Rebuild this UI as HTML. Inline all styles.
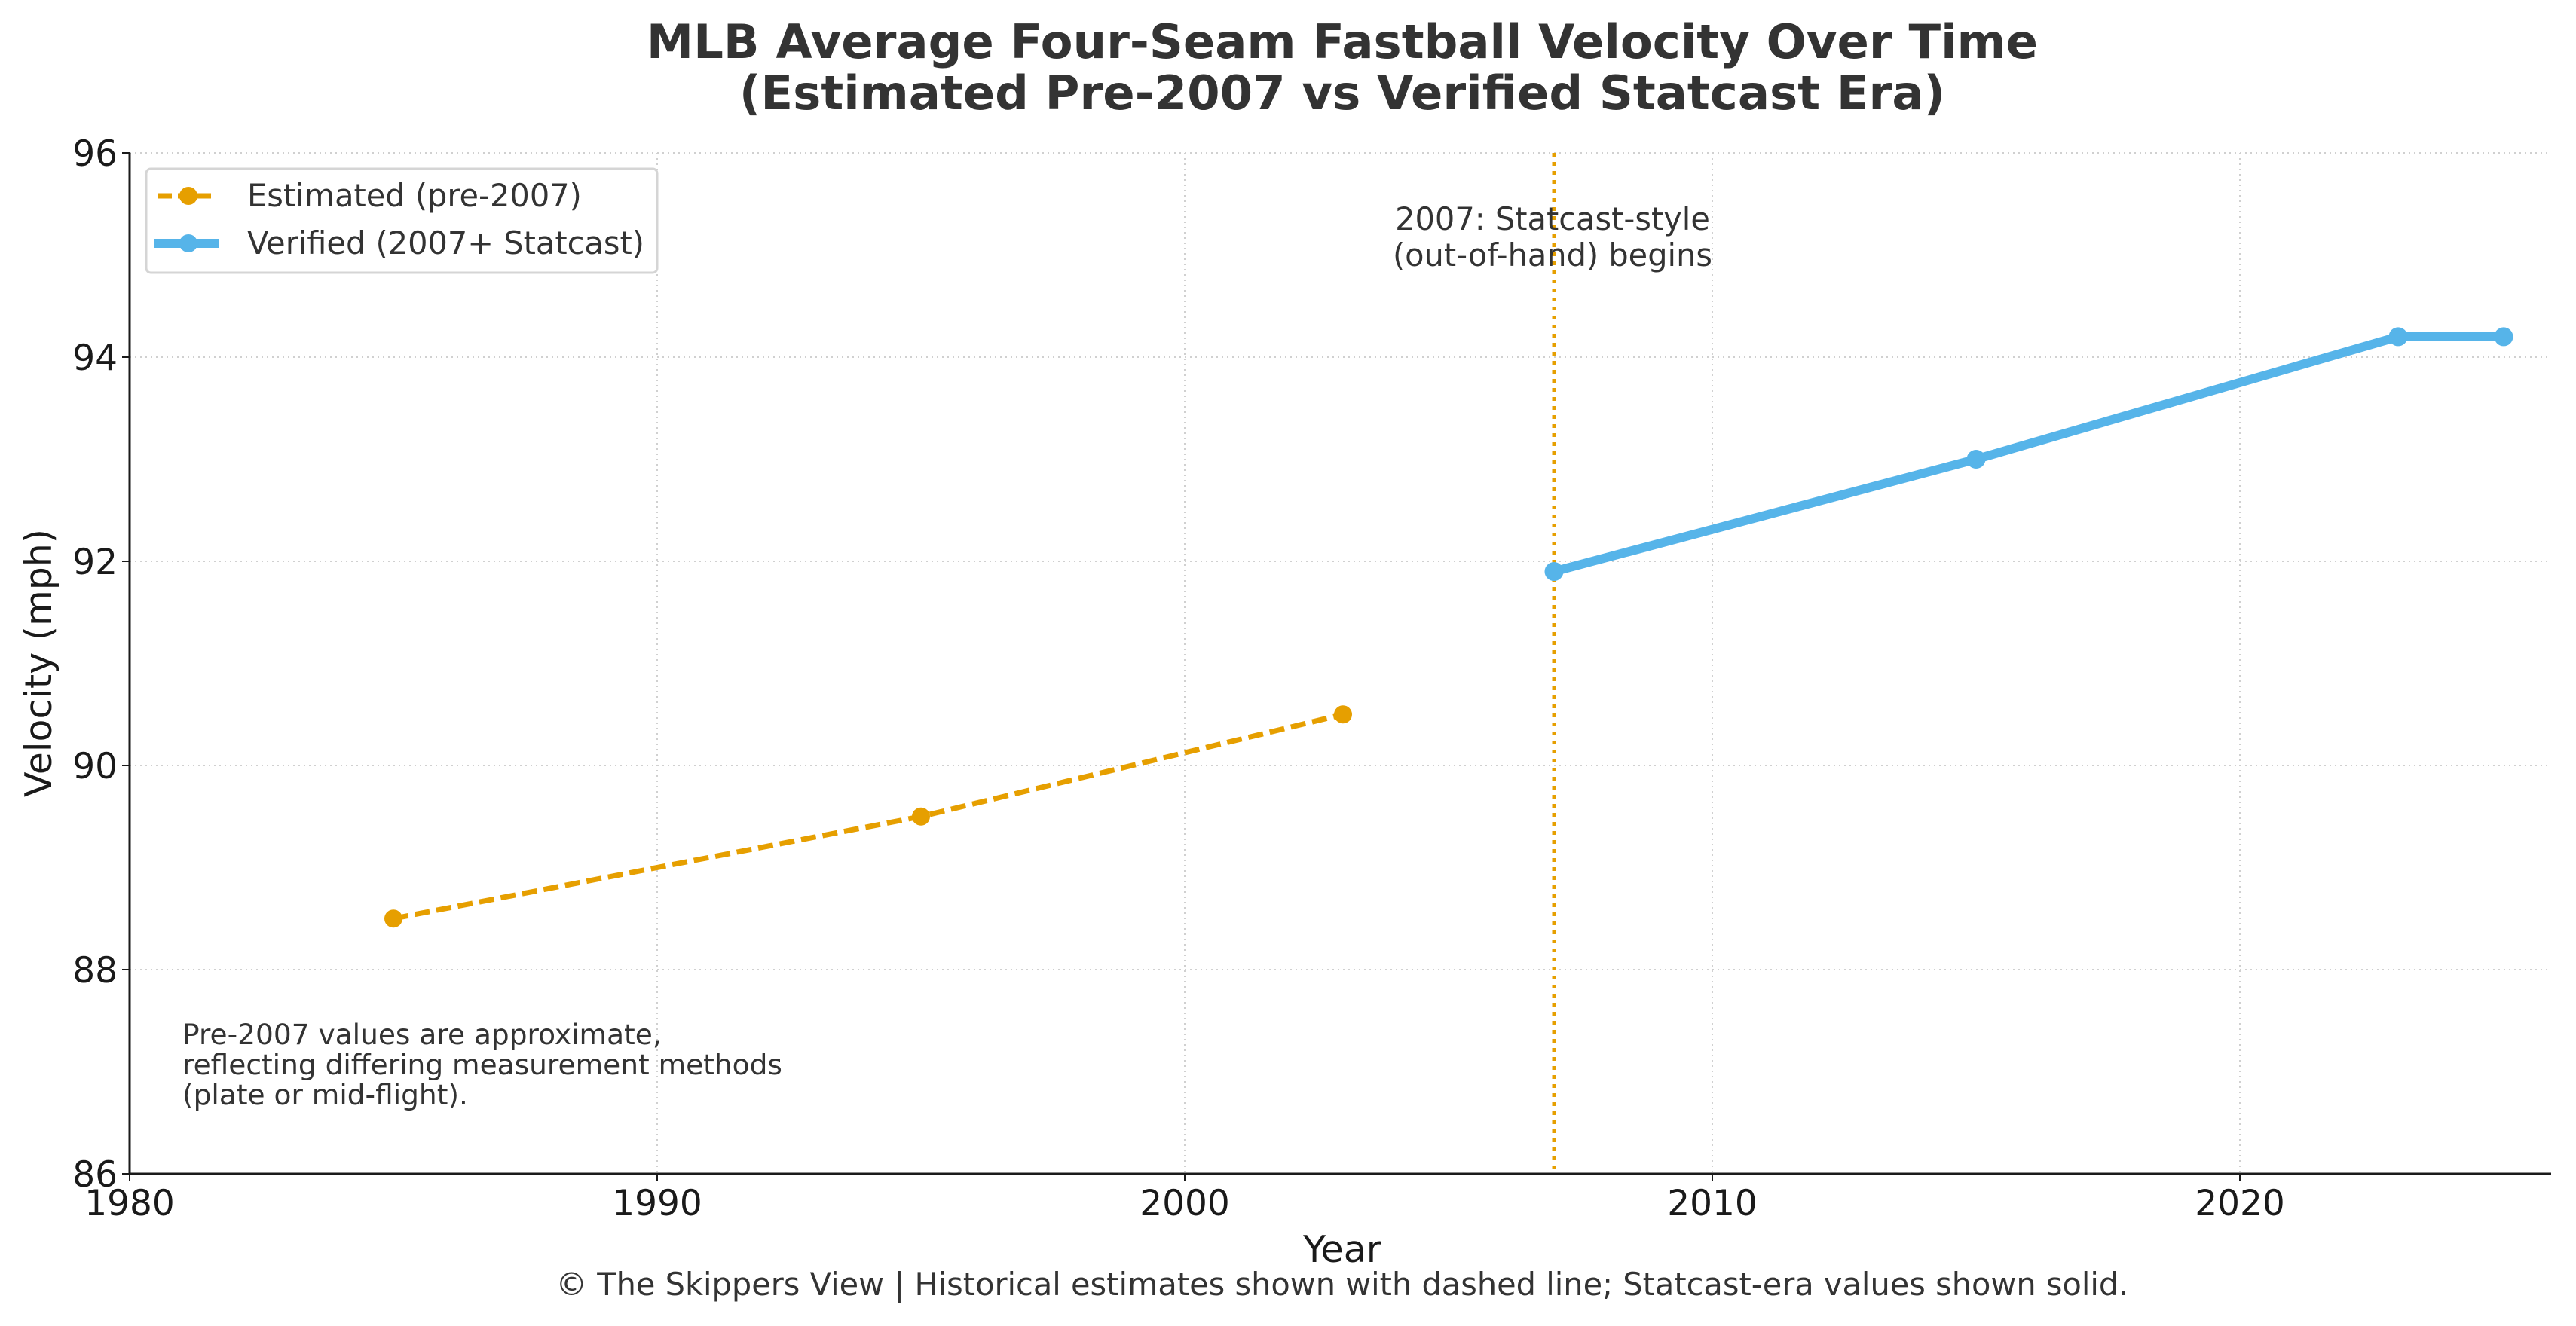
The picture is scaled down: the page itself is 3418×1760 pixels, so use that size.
<!DOCTYPE html>
<html><head><meta charset="utf-8"><style>
html,body{margin:0;padding:0;background:#fff}
svg{display:block;font-family:"DejaVu Sans","Liberation Sans",sans-serif}
</style></head><body>
<svg id="chart" width="3418" height="1760" viewBox="0 0 3418 1760">
<g fill="#333" font-weight="bold" font-size="62.5" text-anchor="middle">
<text x="1781" y="77">MLB Average Four-Seam Fastball Velocity Over Time</text>
<text x="1781" y="145">(Estimated Pre-2007 vs Verified Statcast Era)</text>
</g>
<g id="grid"></g>
<g id="marks"></g>
<g id="axes"></g>
<text x="2060" y="305" font-size="41.5" fill="#333" text-anchor="middle">2007: Statcast-style</text>
<text x="2060" y="353" font-size="41.5" fill="#333" text-anchor="middle">(out-of-hand) begins</text>
<g font-size="37.5" fill="#333">
<text x="242" y="1386">Pre-2007 values are approximate,</text>
<text x="242" y="1426">reflecting differing measurement methods</text>
<text x="242" y="1466">(plate or mid-flight).</text>
</g>
<g>
<rect x="194" y="224" width="678" height="138" rx="6" fill="#fff" stroke="#d5d5d5" stroke-width="3"/>
<g>
<line x1="210" y1="260" x2="285" y2="260" stroke="#E69F00" stroke-width="7" stroke-dasharray="18,8"/>
<circle cx="250" cy="260" r="12" fill="#E69F00"/>
<text x="328" y="274" font-size="41.5" fill="#333">Estimated (pre-2007)</text>
</g>
<g>
<line x1="205" y1="323" x2="290" y2="323" stroke="#56B4E9" stroke-width="12"/>
<circle cx="250" cy="323" r="12" fill="#56B4E9"/>
<text x="328" y="337" font-size="41.5" fill="#333">Verified (2007+ Statcast)</text>
</g>
</g>
<text x="1781" y="1675" font-size="49" fill="#1a1a1a" text-anchor="middle">Year</text>
<text x="0" y="0" font-size="49" fill="#1a1a1a" text-anchor="middle" transform="translate(68,880) rotate(-90)">Velocity (mph)</text>
<text x="1781" y="1719" font-size="41.5" fill="#333" text-anchor="middle">© The Skippers View | Historical estimates shown with dashed line; Statcast-era values shown solid.</text>
</svg>
<script>
const estYears = [1985, 1995, 2003];
const estValues = [88.5, 89.5, 90.5];
const verYears = [2007, 2015, 2023, 2025];
const verValues = [91.9, 93.0, 94.2, 94.2];
const xTicks = [1980, 1990, 2000, 2010, 2020];
const yTicks = [86, 88, 90, 92, 94, 96];
const statcastYear = 2007;

const NS = "http://www.w3.org/2000/svg";
const L = 172, R = 3385, T = 203, B = 1558;
const X0 = 1980, X1 = 1980 + (R - L) / 70, Y0 = 86, Y1 = 96;
const sx = v => L + (v - X0) / (X1 - X0) * (R - L);
const sy = v => B - (v - Y0) / (Y1 - Y0) * (B - T);
function mk(tag, attrs, parent) {
  const e = document.createElementNS(NS, tag);
  for (const k in attrs) e.setAttribute(k, attrs[k]);
  parent.appendChild(e);
  return e;
}
const grid = document.getElementById('grid');
const marks = document.getElementById('marks');
const axes = document.getElementById('axes');
xTicks.forEach(t => {
  const g = mk('line', {x1: sx(t), x2: sx(t), y1: T, y2: B, stroke: '#d0d0d0', 'stroke-width': 2, 'stroke-dasharray': '2,5'}, grid);
  
  
  const tk = mk('line', {x1: sx(t), x2: sx(t), y1: B, y2: B + 10, stroke: '#1a1a1a', 'stroke-width': 2}, axes);
  
  
  const tx = mk('text', {x: sx(t), y: B + 55, 'font-size': 47, fill: '#1a1a1a', 'text-anchor': 'middle'}, axes);
  tx.textContent = t;
  
  
});
yTicks.forEach(t => {
  const g = mk('line', {x1: L, x2: R, y1: sy(t), y2: sy(t), stroke: '#d0d0d0', 'stroke-width': 2, 'stroke-dasharray': '2,5'}, grid);
  
  
  const tk = mk('line', {x1: L - 10, x2: L, y1: sy(t), y2: sy(t), stroke: '#1a1a1a', 'stroke-width': 2}, axes);
  
  
  const tx = mk('text', {x: L - 16, y: sy(t) + 17, 'font-size': 47, fill: '#1a1a1a', 'text-anchor': 'end'}, axes);
  tx.textContent = t;
  
  
});
const sl = mk('line', {x1: L, x2: L, y1: T, y2: B, stroke: '#1a1a1a', 'stroke-width': 3}, axes);


const bl = mk('line', {x1: L, x2: R, y1: B, y2: B, stroke: '#1a1a1a', 'stroke-width': 3}, axes);



const vl = mk('line', {x1: sx(statcastYear), x2: sx(statcastYear), y1: T, y2: B, stroke: '#E69F00', 'stroke-width': 5, 'stroke-dasharray': '5,7'}, marks);



const estPath = mk('polyline', {points: estYears.map((y, i) => sx(y) + ',' + sy(estValues[i])).join(' '), fill: 'none', stroke: '#E69F00', 'stroke-width': 7, 'stroke-dasharray': '20,9'}, marks);


estYears.forEach((y, i) => {
  const c = mk('circle', {cx: sx(y), cy: sy(estValues[i]), r: 12, fill: '#E69F00'}, marks);
  
  
});
const verPath = mk('polyline', {points: verYears.map((y, i) => sx(y) + ',' + sy(verValues[i])).join(' '), fill: 'none', stroke: '#56B4E9', 'stroke-width': 12, 'stroke-linejoin': 'round'}, marks);


verYears.forEach((y, i) => {
  const c = mk('circle', {cx: sx(y), cy: sy(verValues[i]), r: 12.5, fill: '#56B4E9'}, marks);
  
  
});
</script>
</body></html>
